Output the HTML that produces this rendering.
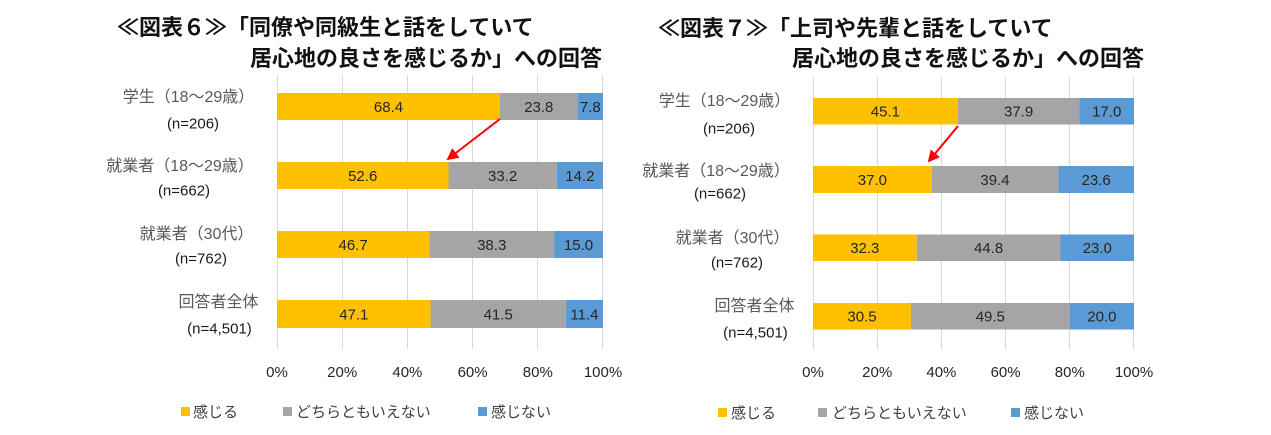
<!DOCTYPE html>
<html><head><meta charset="utf-8">
<style>
html,body{margin:0;padding:0;background:#fff;}
svg{display:block;}
text{font-family:"Liberation Sans","Noto Sans CJK JP",sans-serif;}
.t{font-size:22px;font-weight:bold;fill:#111;}
.lab{font-size:16px;fill:#595959;text-anchor:middle;}
.n{font-size:15px;fill:#1a1a1a;text-anchor:middle;}
.v{font-size:15px;fill:#262626;text-anchor:middle;}
.tk{font-size:15px;fill:#262626;text-anchor:middle;}
.lg{font-size:15px;fill:#404040;}
</style></head>
<body>
<svg width="1271" height="435" viewBox="0 0 1271 435" xmlns="http://www.w3.org/2000/svg">
<defs>
<marker id="ah" markerWidth="12" markerHeight="12" refX="10" refY="6" orient="auto" markerUnits="userSpaceOnUse">
<path d="M0,0 L12,6 L0,12 z" fill="#FF0000"/>
</marker>
</defs>
<rect width="1271" height="435" fill="#fff"/>

<!-- ===== Chart 1 ===== -->
<text class="t" x="117" y="35">≪図表６≫「同僚や同級生と話をしていて</text>
<text class="t" x="250" y="66">居心地の良さを感じるか」への回答</text>

<g stroke="#D9D9D9" stroke-width="1">
<line x1="277.5" y1="75" x2="277.5" y2="349"/>
<line x1="342.5" y1="75" x2="342.5" y2="349"/>
<line x1="407.5" y1="75" x2="407.5" y2="349"/>
<line x1="472.5" y1="75" x2="472.5" y2="349"/>
<line x1="537.5" y1="75" x2="537.5" y2="349"/>
<line x1="602.5" y1="75" x2="602.5" y2="349"/>
</g>

<rect x="277" y="93" width="223" height="27" fill="#FFC000"/>
<rect x="500" y="93" width="77.6" height="27" fill="#A5A5A5"/>
<rect x="577.6" y="93" width="25.4" height="27" fill="#5B9BD5"/>
<rect x="277" y="162" width="171.5" height="27" fill="#FFC000"/>
<rect x="448.5" y="162" width="108.2" height="27" fill="#A5A5A5"/>
<rect x="556.7" y="162" width="46.3" height="27" fill="#5B9BD5"/>
<rect x="277" y="231" width="152.2" height="27" fill="#FFC000"/>
<rect x="429.2" y="231" width="124.9" height="27" fill="#A5A5A5"/>
<rect x="554.1" y="231" width="48.9" height="27" fill="#5B9BD5"/>
<rect x="277" y="300" width="153.5" height="28" fill="#FFC000"/>
<rect x="430.5" y="300" width="135.3" height="28" fill="#A5A5A5"/>
<rect x="565.8" y="300" width="37.2" height="28" fill="#5B9BD5"/>

<text class="v" x="388.5" y="112">68.4</text>
<text class="v" x="538.8" y="112">23.8</text>
<text class="v" x="590.3" y="112">7.8</text>
<text class="v" x="362.7" y="181">52.6</text>
<text class="v" x="502.6" y="181">33.2</text>
<text class="v" x="579.9" y="181">14.2</text>
<text class="v" x="353.1" y="250">46.7</text>
<text class="v" x="491.7" y="250">38.3</text>
<text class="v" x="578.5" y="250">15.0</text>
<text class="v" x="353.8" y="319.5">47.1</text>
<text class="v" x="498.2" y="319.5">41.5</text>
<text class="v" x="584.4" y="319.5">11.4</text>

<text class="lab" x="188.5" y="102">学生（18〜29歳）</text>
<text class="n" x="193" y="128.5">(n=206)</text>
<text class="lab" x="180" y="171">就業者（18〜29歳）</text>
<text class="n" x="184" y="195.5">(n=662)</text>
<text class="lab" x="196.5" y="239">就業者（30代）</text>
<text class="n" x="201" y="263.5">(n=762)</text>
<text class="lab" x="218.5" y="307">回答者全体</text>
<text class="n" x="219.5" y="333.5">(n=4,501)</text>

<line x1="500" y1="119" x2="448" y2="159" stroke="#FF0000" stroke-width="2" marker-end="url(#ah)"/>

<text class="tk" x="277" y="377">0%</text>
<text class="tk" x="342.2" y="377">20%</text>
<text class="tk" x="407.4" y="377">40%</text>
<text class="tk" x="472.6" y="377">60%</text>
<text class="tk" x="537.8" y="377">80%</text>
<text class="tk" x="603" y="377">100%</text>

<rect x="181" y="407" width="9" height="9" fill="#FFC000"/>
<text class="lg" x="193" y="417">感じる</text>
<rect x="283" y="407" width="9" height="9" fill="#A5A5A5"/>
<text class="lg" x="296" y="417">どちらともいえない</text>
<rect x="478" y="407" width="9" height="9" fill="#5B9BD5"/>
<text class="lg" x="491" y="417">感じない</text>

<!-- ===== Chart 2 ===== -->
<text class="t" x="658" y="36">≪図表７≫「上司や先輩と話をしていて</text>
<text class="t" x="792" y="66">居心地の良さを感じるか」への回答</text>

<g stroke="#D9D9D9" stroke-width="1">
<line x1="813.5" y1="77" x2="813.5" y2="350"/>
<line x1="877.5" y1="77" x2="877.5" y2="350"/>
<line x1="941.5" y1="77" x2="941.5" y2="350"/>
<line x1="1005.5" y1="77" x2="1005.5" y2="350"/>
<line x1="1069.5" y1="77" x2="1069.5" y2="350"/>
<line x1="1133.5" y1="77" x2="1133.5" y2="350"/>
</g>

<rect x="813" y="98" width="144.8" height="26.5" fill="#FFC000"/>
<rect x="957.8" y="98" width="121.6" height="26.5" fill="#A5A5A5"/>
<rect x="1079.4" y="98" width="54.6" height="26.5" fill="#5B9BD5"/>
<rect x="813" y="166" width="118.8" height="27" fill="#FFC000"/>
<rect x="931.8" y="166" width="126.5" height="27" fill="#A5A5A5"/>
<rect x="1058.3" y="166" width="75.7" height="27" fill="#5B9BD5"/>
<rect x="813" y="234.5" width="103.7" height="26.5" fill="#FFC000"/>
<rect x="916.7" y="234.5" width="143.8" height="26.5" fill="#A5A5A5"/>
<rect x="1060.5" y="234.5" width="73.5" height="26.5" fill="#5B9BD5"/>
<rect x="813" y="303" width="97.9" height="26.5" fill="#FFC000"/>
<rect x="910.9" y="303" width="158.9" height="26.5" fill="#A5A5A5"/>
<rect x="1069.8" y="303" width="64.2" height="26.5" fill="#5B9BD5"/>

<text class="v" x="885.4" y="116.5">45.1</text>
<text class="v" x="1018.6" y="116.5">37.9</text>
<text class="v" x="1106.7" y="116.5">17.0</text>
<text class="v" x="872.4" y="185">37.0</text>
<text class="v" x="995" y="185">39.4</text>
<text class="v" x="1096.1" y="185">23.6</text>
<text class="v" x="864.8" y="253">32.3</text>
<text class="v" x="988.6" y="253">44.8</text>
<text class="v" x="1097.3" y="253">23.0</text>
<text class="v" x="862" y="321.5">30.5</text>
<text class="v" x="990.3" y="321.5">49.5</text>
<text class="v" x="1101.9" y="321.5">20.0</text>

<text class="lab" x="724.5" y="106">学生（18〜29歳）</text>
<text class="n" x="729" y="133.5">(n=206)</text>
<text class="lab" x="716" y="176">就業者（18〜29歳）</text>
<text class="n" x="720" y="198.5">(n=662)</text>
<text class="lab" x="732.5" y="243">就業者（30代）</text>
<text class="n" x="737" y="267.5">(n=762)</text>
<text class="lab" x="754.5" y="311">回答者全体</text>
<text class="n" x="755.5" y="337.5">(n=4,501)</text>

<line x1="958" y1="126" x2="929" y2="161" stroke="#FF0000" stroke-width="2" marker-end="url(#ah)"/>

<text class="tk" x="813" y="377">0%</text>
<text class="tk" x="877.2" y="377">20%</text>
<text class="tk" x="941.4" y="377">40%</text>
<text class="tk" x="1005.6" y="377">60%</text>
<text class="tk" x="1069.8" y="377">80%</text>
<text class="tk" x="1134" y="377">100%</text>

<rect x="718" y="408" width="9" height="9" fill="#FFC000"/>
<text class="lg" x="731" y="418">感じる</text>
<rect x="818" y="408" width="9" height="9" fill="#A5A5A5"/>
<text class="lg" x="832" y="418">どちらともいえない</text>
<rect x="1011" y="408" width="9" height="9" fill="#5B9BD5"/>
<text class="lg" x="1024" y="418">感じない</text>
</svg>
</body></html>
